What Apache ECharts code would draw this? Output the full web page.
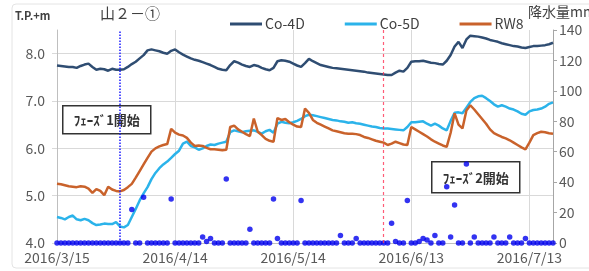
<!DOCTYPE html>
<html>
<head>
<meta charset="utf-8">
<script src="https://cdn.jsdelivr.net/npm/echarts@6/dist/echarts.min.js"></script>
<style>
  html, body { margin: 0; padding: 0; background: #fff; }
  #myChart1 { width: 589px; height: 271px; }
</style>
</head>
<body>
<div id="myChart1"></div>
<script>
// 2016/3/15 ～ 2016/7/19 日毎
var startDay = new Date(2016, 2, 15);
var dayCount = 127;

var co4d = [7.75,7.74,7.73,7.72,7.72,7.70,7.74,7.77,7.79,7.72,
  7.66,7.68,7.67,7.64,7.68,7.66,7.66,7.67,7.72,7.78,
  7.83,7.90,7.97,8.07,8.09,8.07,8.05,8.02,8.00,8.06,
  8.09,8.03,7.98,7.94,7.90,7.87,7.85,7.82,7.79,7.76,
  7.72,7.68,7.66,7.65,7.76,7.84,7.81,7.77,7.74,7.72,
  7.76,7.74,7.70,7.67,7.65,7.70,7.84,7.86,7.85,7.83,
  7.79,7.75,7.72,7.80,7.89,7.84,7.80,7.76,7.74,7.72,
  7.70,7.69,7.68,7.67,7.66,7.65,7.64,7.63,7.62,7.60,
  7.59,7.58,7.57,7.56,7.55,7.55,7.60,7.64,7.62,7.70,
  7.83,7.84,7.84,7.85,7.83,7.81,7.80,7.78,7.77,7.85,
  7.97,8.15,8.25,8.12,8.30,8.38,8.37,8.36,8.34,8.32,
  8.29,8.27,8.25,8.22,8.20,8.18,8.16,8.15,8.13,8.12,
  8.14,8.16,8.16,8.17,8.18,8.20,8.23];

var co5d = [4.55,4.53,4.50,4.55,4.58,4.50,4.48,4.51,4.48,4.42,
  4.38,4.39,4.41,4.40,4.40,4.44,4.35,4.33,4.38,4.55,
  4.72,4.90,5.05,5.18,5.35,5.48,5.58,5.66,5.72,5.80,
  5.88,5.95,6.10,6.14,6.05,6.02,5.97,6.00,6.05,6.08,
  6.07,6.10,6.12,6.14,6.34,6.38,6.36,6.34,6.36,6.37,
  6.38,6.35,6.31,6.36,6.39,6.33,6.52,6.56,6.54,6.53,
  6.55,6.58,6.62,6.68,6.71,6.70,6.68,6.66,6.64,6.62,
  6.60,6.59,6.57,6.56,6.54,6.55,6.53,6.52,6.50,6.48,
  6.46,6.45,6.43,6.42,6.42,6.41,6.40,6.39,6.38,6.45,
  6.55,6.55,6.56,6.57,6.52,6.48,6.52,6.48,6.42,6.38,
  6.58,6.75,6.76,6.74,6.86,6.98,7.06,7.10,7.11,7.06,
  7.00,6.93,6.88,6.91,6.88,6.84,6.82,6.78,6.73,6.71,
  6.78,6.81,6.82,6.84,6.88,6.94,6.97];

var rw8 = [5.25,5.24,5.22,5.20,5.19,5.18,5.20,5.19,5.15,5.06,
  5.14,5.10,5.01,5.19,5.13,5.10,5.09,5.12,5.18,5.25,
  5.38,5.52,5.66,5.80,5.93,6.00,6.04,6.07,6.09,6.41,
  6.33,6.29,6.27,6.22,6.12,6.05,6.06,6.05,6.01,5.98,
  5.98,5.97,5.96,5.97,6.45,6.48,6.40,6.35,6.30,6.26,
  6.63,6.35,6.28,6.20,6.16,6.14,6.64,6.60,6.62,6.55,
  6.50,6.46,6.45,6.84,6.75,6.60,6.54,6.50,6.46,6.42,
  6.38,6.36,6.34,6.32,6.31,6.31,6.30,6.28,6.24,6.22,
  6.19,6.16,6.14,6.12,6.07,6.10,6.14,6.11,6.08,6.07,
  6.45,6.40,6.35,6.30,6.25,6.19,6.14,6.10,6.06,6.03,
  6.33,6.74,6.50,6.42,6.80,6.91,6.82,6.72,6.62,6.52,
  6.40,6.32,6.28,6.24,6.21,6.17,6.12,6.07,6.02,5.98,
  6.12,6.28,6.32,6.35,6.34,6.32,6.31];

// 降水量 mm
var rain = [0,0,0,0,0,0,0,0,0,0,
  0,0,0,0,0,0,0,0,0,22,
  0,0,30,0,0,0,0,0,0,29,
  0,0,0,0,0,0,0,4,1,3,
  0,0,0,42,0,0,0,0,0,9,
  0,0,0,0,0,29,3,0,0,0,
  0,0,28,0,0,0,0,0,0,0,
  0,0,5,0,0,0,3,0,0,0,
  0,0,0,0,0,13,1,0,0,28,
  0,0,1,3,2,0,5,0,0,37,
  4,25,0,0,52,0,4,0,0,0,
  0,4,0,0,0,4,0,0,0,3,
  0,0,0,0,0,0,0];

var leftTicks = {min: 4, max: 8.5, interval: 1};
var rightTicks = {min: 0, max: 140, interval: 20};
var phase1Day = '2016/3/31';
var phase2Day = '2016/6/6';

var days = [];
for (var i = 0; i < dayCount; i++) {
  var d = new Date(startDay.getTime() + i * 86400000);
  days.push(d.getFullYear() + '/' + (d.getMonth() + 1) + '/' + d.getDate());
}

var fontJp = '"Noto Sans CJK JP", "Noto Sans", sans-serif';
var myChart1 = echarts.init(document.getElementById('myChart1'));

myChart1.setOption({
  animation: false,
  backgroundColor: '#fff',
  textStyle: {fontFamily: fontJp},
  grid: {left: 57, right: 36, top: 30, bottom: 28},
  legend: {
    data: ['Co-4D', 'Co-5D', 'RW8'],
    left: 225,
    top: 12,
    icon: 'rect',
    itemWidth: 32,
    itemHeight: 3,
    itemGap: 40,
    textStyle: {fontSize: 14, color: '#404040', padding: [0, 0, 0, -2]}
  },
  xAxis: {
    type: 'category',
    data: days,
    boundaryGap: false,
    axisLine: {lineStyle: {color: '#bfbfbf'}},
    axisTick: {show: false},
    axisLabel: {interval: 29, fontSize: 14, color: '#595959', margin: 8},
    splitLine: {show: true, interval: 29, lineStyle: {color: '#d9d9d9'}}
  },
  yAxis: [
    {
      type: 'value',
      min: leftTicks.min,
      max: leftTicks.max,
      interval: leftTicks.interval,
      axisLine: {show: true, lineStyle: {color: '#bfbfbf'}},
      axisTick: {show: true, length: 5, lineStyle: {color: '#d9d9d9'}},
      axisLabel: {
        fontSize: 14, color: '#595959', margin: 12, showMaxLabel: false,
        formatter: function (v) { return v.toFixed(1); }
      },
      splitLine: {lineStyle: {color: '#d9d9d9'}, showMaxLine: false}
    },
    {
      type: 'value',
      min: rightTicks.min,
      max: rightTicks.max,
      interval: rightTicks.interval,
      position: 'right',
      axisLine: {show: true, lineStyle: {color: '#a6a6a6'}},
      axisTick: {show: true, length: 4, lineStyle: {color: '#a6a6a6'}},
      axisLabel: {fontSize: 14, color: '#595959', margin: 6},
      splitLine: {show: false}
    }
  ],
  series: [
    {
      name: 'Co-4D',
      type: 'line',
      data: co4d,
      showSymbol: false,
      lineStyle: {color: '#2f4d72', width: 2.5},
      itemStyle: {color: '#2f4d72'},
      markLine: {
        silent: true,
        symbol: 'none',
        label: {show: false},
        lineStyle: {color: '#1a1aff', type: 'dotted', width: 1.5},
        data: [{xAxis: phase1Day}]
      }
    },
    {
      name: 'Co-5D',
      type: 'line',
      data: co5d,
      showSymbol: false,
      lineStyle: {color: '#2bb3ea', width: 2.5},
      itemStyle: {color: '#2bb3ea'}
    },
    {
      name: 'RW8',
      type: 'line',
      data: rw8,
      showSymbol: false,
      lineStyle: {color: '#c9622b', width: 2.5},
      itemStyle: {color: '#c9622b'},
      markLine: {
        silent: true,
        symbol: 'none',
        label: {show: false},
        lineStyle: {color: '#ff3355', type: [3, 3], width: 1.2, opacity: 0.8},
        data: [{xAxis: phase2Day}]
      }
    },
    {
      name: '降水量',
      type: 'scatter',
      yAxisIndex: 1,
      data: rain,
      symbolSize: 5.5,
      itemStyle: {color: '#0000ee'},
      z: 4
    }
  ],
  graphic: [
    // 外枠
    {type: 'rect', shape: {x: 12, y: 4, width: 600, height: 264, r: 4}, style: {fill: 'none', stroke: '#e4e4e4'}, z: -1},
    {type: 'text', left: 15, top: 10, style: {text: 'T.P.+m', font: 'bold 11px ' + fontJp, fill: '#404040'}},
    {type: 'text', left: 100, top: 6, style: {text: '山２－①', font: '15px ' + fontJp, fill: '#404040'}},
    {type: 'text', left: 528, top: 5, style: {text: '降水量mm', font: '14px ' + fontJp, fill: '#404040'}},
    {
      type: 'group', left: 62, top: 105, z: 1,
      children: [
        {type: 'rect', shape: {x: 0, y: 0, width: 88, height: 28}, style: {fill: '#fff', stroke: '#333', lineWidth: 1.5}},
        {type: 'text', x: 44, y: 14, style: {text: 'ﾌｪｰｽﾞ1開始', font: 'bold 13px ' + fontJp, fill: '#333', align: 'center', verticalAlign: 'middle'}}
      ]
    },
    {
      type: 'group', left: 431, top: 161, z: 1,
      children: [
        {type: 'rect', shape: {x: 0, y: 0, width: 88, height: 31}, style: {fill: '#fff', stroke: '#333', lineWidth: 1.5}},
        {type: 'text', x: 44, y: 16, style: {text: 'ﾌｪｰｽﾞ2開始', font: 'bold 13px ' + fontJp, fill: '#333', align: 'center', verticalAlign: 'middle'}}
      ]
    }
  ]
});
</script>
</body>
</html>
